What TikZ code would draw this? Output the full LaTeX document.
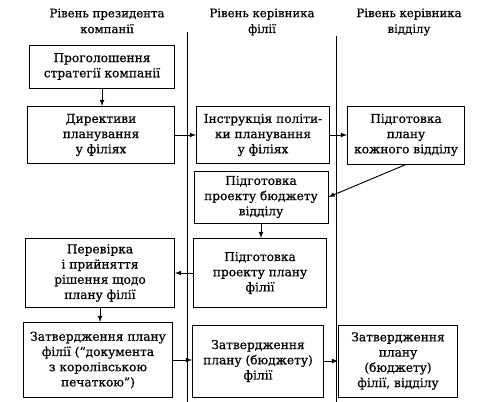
\documentclass[tikz,border=0pt]{standalone}
\usepackage{fontspec}
\setmainfont{DejaVu Serif}[FakeBold=0.7]
\begin{document}
\begin{tikzpicture}[x=0.03cm, y=-0.03cm,
    box/.style={draw, line width=0.8pt, align=center, inner sep=1pt, font=\fontsize{10.4}{13}\selectfont},
    head/.style={align=center, inner sep=0pt, font=\fontsize{10}{13.5}\selectfont},
    arr/.style={-latex, line width=0.8pt}]
    \useasboundingbox (0, 0) rectangle (485, 402);

    \node[head] at (107, 21)  (h1)    {Рівень президента\\компанії};
    \node[head] at (262, 22)  (h2)    {Рівень керівника\\філії};
    \node[head] at (409, 22)  (h3)    {Рівень керівника\\відділу};

    \coordinate (l1t) at (187, 32);
    \coordinate (l1b) at (187, 402);
    \coordinate (l2t) at (336, 36);
    \coordinate (l2b) at (336, 402);
    \draw[line width=0.7pt] (l1t) -- (l1b);
    \draw[line width=0.7pt] (l2t) -- (l2b);

    \node[box, minimum width=4.35cm, minimum height=1.29cm] at (102, 66.5)  (b1)  {Проголошення\\стратегії компанії};
    \node[box, minimum width=4.41cm, minimum height=1.71cm] at (101, 135)   (b2)  {Директиви\\планування\\у філіях};
    \node[box, minimum width=3.99cm, minimum height=1.71cm] at (263, 135)   (b3)  {Інструкція політи-\\ки планування\\у філіях};
    \node[box, minimum width=3.51cm, minimum height=1.74cm] at (406, 135)   (b4)  {Підготовка\\плану\\кожного відділу};
    \node[box, minimum width=4.02cm, minimum height=1.56cm] at (261, 197)   (b5)  {Підготовка\\проекту бюджету\\відділу};
    \node[box, minimum width=3.99cm, minimum height=2.07cm] at (260, 273)   (b6)  {Підготовка\\проекту плану\\філії};
    \node[box, minimum width=4.47cm, minimum height=2.07cm] at (100, 273)   (b7)  {Перевірка\\і прийняття\\рішення щодо\\плану філії};
    \node[box, minimum width=4.47cm, minimum height=2.25cm] at (98, 360)    (b8)  {Затвердження плану\\філії (“документа\\з королівською\\печаткою”)};
    \node[box, minimum width=3.93cm, minimum height=2.16cm] at (258, 361)   (b9)  {Затвердження\\плану (бюджету)\\філії};
    \node[box, minimum width=3.57cm, minimum height=2.16cm] at (398, 361)   (b10) {Затвердження\\плану\\(бюджету)\\філії, відділу};

    \draw[arr]  (b1.south) -- (b1.south |- b2.north);
    \draw[arr]  (b2) -- (b3);
    \draw[arr]  (b3) -- (b4);
    \draw[arr]  (b4.south) -- (b5.east);
    \draw[arr]  (b5.south) -- (b5.south |- b6.north);
    \draw[arr]  (b6) -- (b7);
    \draw[arr]  (b7.south) -- (b7.south |- b8.north);
    \draw[arr]  (b8.east) -- (b8.east -| b9.west);
    \draw[arr]  (b9) -- (b10);
  \end{tikzpicture}
\end{document}
